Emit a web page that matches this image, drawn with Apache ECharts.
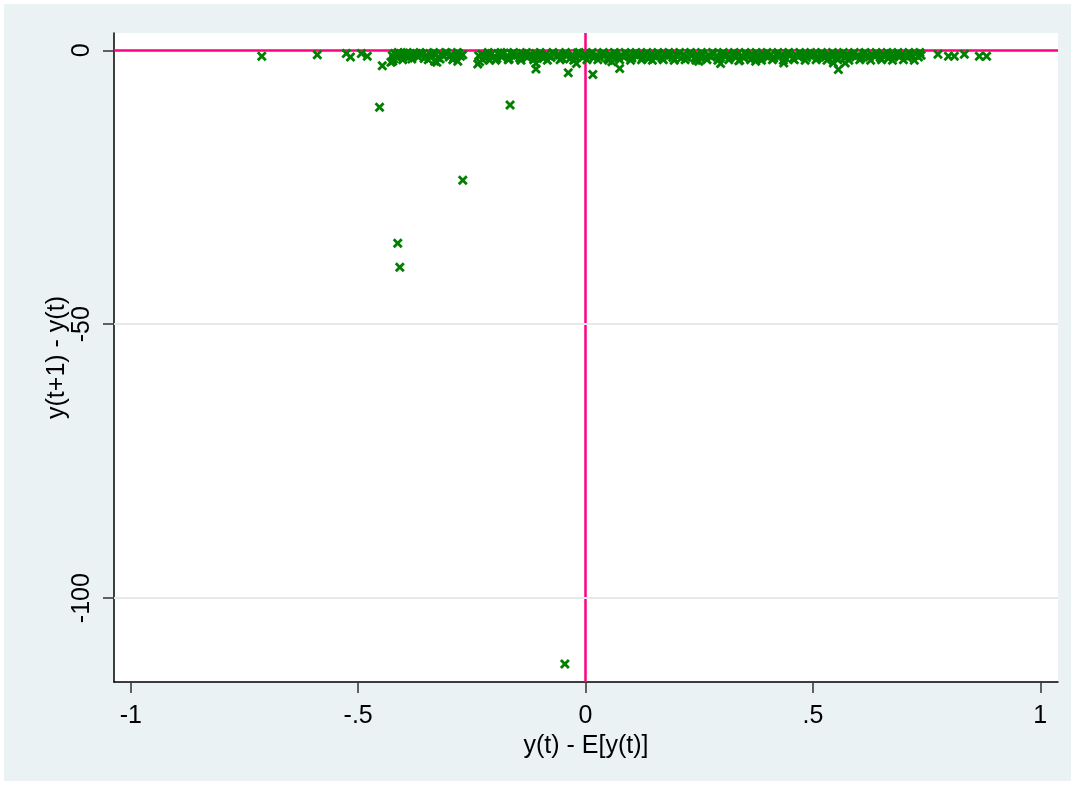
<!DOCTYPE html>
<html>
<head>
<meta charset="utf-8">
<script src="https://cdn.jsdelivr.net/npm/echarts@6/dist/echarts.min.js"></script>
<style>
html,body{margin:0;padding:0;background:#fff;}
#chart{width:1075px;height:785px;}
</style>
</head>
<body>
<div id="chart"></div>
<script>
// Tick values and labels
const xTickValues = [-1, -0.5, 0, 0.5, 1];
const xTickLabels = ["-1", "-.5", "0", ".5", "1"];
const yTickValues = [0, -50, -100];
const yTickLabels = ["0", "-50", "-100"];

// Outlying observations
const outlierPoints = [
  [-0.0455, -112.0], [-0.453, -10.4], [-0.166, -10.0], [-0.270, -23.7],
  [-0.413, -35.2], [-0.4085, -39.6]
];

// Sparse points near zero (left and right tails, drops below band)
const sparsePoints = [
  [-0.712, -1.1], [-0.590, -0.8], [-0.526, -0.6], [-0.517, -1.2], [-0.493, -0.6],
  [-0.480, -1.1], [-0.447, -2.8], [-0.428, -2.2], [-0.424, -2.0], [-0.327, -2.2],
  [-0.332, -2.0], [-0.281, -2.0], [-0.237, -2.5], [-0.233, -2.1], [-0.109, -3.4],
  [-0.109, -2.4], [-0.038, -4.1], [-0.020, -2.4], [0.016, -4.4], [0.075, -3.3],
  [0.058, -2.1], [0.249, -2.0], [0.297, -2.4], [0.337, -1.9], [0.374, -2.0],
  [0.436, -2.3], [0.556, -3.5], [0.545, -2.3], [0.571, -2.3], [0.775, -0.7],
  [0.798, -1.1], [0.811, -1.1], [0.833, -0.7], [0.866, -1.1], [0.882, -1.1]
];

// Dense band of observations just below zero
const bandPoints = [
  [-0.425,-1.0],[-0.42,-0.6],[-0.415,-1.3],[-0.41,-0.8],[-0.405,-1.1],[-0.40,-0.5],
  [-0.395,-0.9],[-0.39,-1.4],[-0.385,-0.7],[-0.38,-1.0],[-0.372,-0.6],[-0.368,-1.2],
  [-0.36,-0.8],[-0.355,-1.5],[-0.35,-0.9],[-0.343,-0.6],[-0.338,-1.1],[-0.33,-0.8],
  [-0.325,-1.3],[-0.318,-0.7],[-0.312,-1.0],[-0.305,-0.5],[-0.30,-1.2],[-0.295,-0.8],
  [-0.29,-1.4],[-0.284,-0.9],[-0.279,-0.6],[-0.275,-1.1],[-0.27,-0.8],
  [-0.235,-1.0],[-0.228,-0.7],[-0.222,-1.3],[-0.217,-0.9],[-0.211,-1.8],[-0.206,-0.6],
  [-0.2,-1.1],[-0.195,-1.5],[-0.19,-0.8],[-0.184,-1.2],[-0.179,-0.5],[-0.173,-1.0],
  [-0.168,-1.6],[-0.162,-0.7],[-0.156,-1.1],[-0.15,-0.9],[-0.145,-1.4],[-0.139,-0.6],
  [-0.133,-1.0],[-0.128,-1.3],[-0.122,-0.8],[-0.116,-1.1],[-0.11,-0.6],[-0.104,-1.2],
  [-0.099,-0.9],[-0.093,-1.5],[-0.087,-0.7],[-0.081,-1.0],[-0.076,-1.3],[-0.07,-0.6],
  [-0.064,-1.1],[-0.058,-0.9],[-0.052,-1.4],[-0.047,-0.7],[-0.041,-1.0],[-0.035,-1.6],
  [-0.029,-0.8],[-0.024,-1.2],[-0.018,-0.5],[-0.012,-1.0],[-0.006,-1.3],[0.0,-0.8],
  [0.006,-1.1],[0.012,-0.6],[0.018,-1.4],[0.024,-0.9],[0.03,-1.2],[0.036,-0.7],
  [0.042,-1.0],[0.048,-1.5],[0.054,-0.8],[0.06,-1.1],[0.066,-0.6],[0.072,-1.3],
  [0.078,-0.9],[0.084,-1.2],[0.09,-0.7],[0.096,-1.0],[0.102,-1.4],[0.108,-0.8],
  [0.114,-1.1],[0.12,-0.6],[0.126,-1.3],[0.132,-0.9],[0.138,-1.6],[0.144,-0.7],
  [0.15,-1.0],[0.156,-1.2],[0.162,-0.8],[0.168,-1.4],[0.174,-0.6],[0.18,-1.1],
  [0.186,-0.9],[0.192,-1.3],[0.198,-0.7],[0.204,-1.0],[0.21,-1.5],[0.216,-0.8],
  [0.222,-1.2],[0.228,-0.6],[0.234,-1.0],[0.24,-1.4],[0.246,-0.8],[0.252,-1.1],
  [0.258,-0.7],[0.264,-1.3],[0.27,-0.9],[0.276,-1.2],[0.282,-0.6],[0.288,-1.0],
  [0.294,-1.5],[0.3,-0.8],[0.306,-1.1],[0.312,-0.7],[0.318,-1.3],[0.324,-0.9],
  [0.33,-1.2],[0.336,-0.6],[0.342,-1.0],[0.348,-1.4],[0.354,-0.8],[0.36,-1.1],
  [0.366,-0.7],[0.372,-1.3],[0.378,-0.9],[0.384,-1.6],[0.39,-0.6],[0.396,-1.0],
  [0.402,-1.2],[0.408,-0.8],[0.414,-1.4],[0.42,-0.7],[0.426,-1.1],[0.432,-0.9],
  [0.438,-1.3],[0.444,-0.6],[0.45,-1.0],[0.456,-1.5],[0.462,-0.8],[0.468,-1.2],
  [0.474,-0.7],[0.48,-1.0],[0.486,-1.3],[0.492,-0.9],[0.498,-1.1],[0.504,-0.6],
  [0.51,-1.4],[0.516,-0.8],[0.522,-1.0],[0.528,-1.2],[0.534,-0.7],[0.54,-1.1],
  [0.546,-0.9],[0.552,-1.5],[0.558,-0.6],[0.564,-1.0],[0.57,-1.3],[0.576,-0.8],
  [0.582,-1.1],[0.588,-0.7],[0.594,-1.2],[0.6,-0.9],[0.606,-1.4],[0.612,-0.6],
  [0.618,-1.0],[0.624,-1.2],[0.63,-0.8],[0.636,-1.1],[0.642,-0.7],[0.648,-1.3],
  [0.654,-0.9],[0.66,-1.0],[0.666,-1.5],[0.672,-0.6],[0.678,-1.1],[0.684,-0.8],
  [0.69,-1.2],[0.696,-0.7],[0.702,-1.0],[0.708,-1.3],[0.714,-0.8],[0.72,-1.1],
  [0.726,-0.6],[0.732,-1.2],[0.738,-0.9]
];

// Second layer of the dense band (extra overlapping observations)
const bandPoints2 = [
  [-0.422,-1.6],[-0.412,-0.4],[-0.402,-1.7],[-0.392,-0.4],[-0.382,-1.6],[-0.364,-0.4],
  [-0.346,-1.7],[-0.334,-0.4],[-0.32,-1.6],[-0.308,-0.4],[-0.292,-1.7],[-0.282,-0.4],
  [-0.226,-1.7],[-0.214,-0.4],[-0.198,-1.8],[-0.186,-0.4],[-0.17,-1.7],[-0.158,-0.4],
  [-0.142,-1.8],[-0.13,-0.4],[-0.114,-1.7],[-0.1,-0.4],[-0.084,-1.8],[-0.072,-0.4],
  [-0.056,-1.7],[-0.044,-0.4],[-0.026,-1.8],[-0.014,-0.4],[0.003,-1.7],[0.015,-0.4],
  [0.027,-1.7],[0.039,-0.4],[0.051,-1.8],[0.063,-0.4],[0.075,-1.7],[0.087,-0.4],
  [0.099,-1.8],[0.111,-0.4],[0.123,-1.7],[0.135,-0.4],[0.147,-1.8],[0.159,-0.4],
  [0.171,-1.7],[0.183,-0.4],[0.195,-1.8],[0.207,-0.4],[0.219,-1.7],[0.231,-0.4],
  [0.243,-1.8],[0.255,-0.4],[0.267,-1.7],[0.279,-0.4],[0.291,-1.8],[0.303,-0.4],
  [0.315,-1.7],[0.327,-0.4],[0.339,-1.8],[0.351,-0.4],[0.363,-1.7],[0.375,-0.4],
  [0.387,-1.8],[0.399,-0.4],[0.411,-1.7],[0.423,-0.4],[0.435,-1.8],[0.447,-0.4],
  [0.459,-1.7],[0.471,-0.4],[0.483,-1.8],[0.495,-0.4],[0.507,-1.7],[0.519,-0.4],
  [0.531,-1.8],[0.543,-0.4],[0.555,-1.7],[0.567,-0.4],[0.579,-1.8],[0.591,-0.4],
  [0.603,-1.7],[0.615,-0.4],[0.627,-1.8],[0.639,-0.4],[0.651,-1.7],[0.663,-0.4],
  [0.675,-1.8],[0.687,-0.4],[0.699,-1.7],[0.711,-0.4],[0.723,-1.8],[0.735,-0.4]
];

const xTitle = "y(t) - E[y(t)]";
const yTitle = "y(t+1) - y(t)";

const allPoints = bandPoints.concat(bandPoints2, sparsePoints, outlierPoints);

const FONT = "'Liberation Sans', Arial, sans-serif";
const xMarker = 'path://M0,2 L2,0 L5,3 L8,0 L10,2 L7,5 L10,8 L8,10 L5,7 L2,10 L0,8 L3,5 Z';

const chart = echarts.init(document.getElementById('chart'), null, {renderer: 'canvas'});

chart.setOption({
  backgroundColor: '#ffffff',
  animation: false,
  graphic: [{
    type: 'rect', silent: true, z: -100,
    shape: {x: 4, y: 4, width: 1067, height: 777},
    style: {fill: '#eaf2f3'}
  }],
  grid: {
    left: 114, right: 17, top: 33, bottom: 103,
    show: true, backgroundColor: '#ffffff', borderWidth: 0
  },
  xAxis: {
    type: 'value', min: -1.037, max: 1.039,
    axisLine: {show: true, onZero: false, lineStyle: {color: '#000', width: 1.5}},
    axisTick: {show: true, length: 11, customValues: xTickValues, lineStyle: {color: '#333', width: 1.5}},
    axisLabel: {
      show: true, customValues: xTickValues, margin: 22,
      fontSize: 25, color: '#000', fontFamily: FONT,
      formatter: function (v) { const i = xTickValues.indexOf(v); return i >= 0 ? xTickLabels[i] : ''; }
    },
    splitLine: {show: false},
    name: xTitle, nameLocation: 'middle', nameGap: 50,
    nameTextStyle: {fontSize: 25, color: '#000', fontFamily: FONT}
  },
  yAxis: {
    type: 'value', min: -115.3, max: 3.16,
    axisLine: {show: true, onZero: false, lineStyle: {color: '#000', width: 1.5}},
    axisTick: {show: true, length: 11, customValues: yTickValues, lineStyle: {color: '#333', width: 1.5}},
    axisLabel: {
      show: true, customValues: yTickValues, margin: 19, rotate: 90,
      fontSize: 25, color: '#000', fontFamily: FONT,
      formatter: function (v) { const i = yTickValues.indexOf(v); return i >= 0 ? yTickLabels[i] : ''; }
    },
    splitLine: {show: false},
    name: yTitle, nameLocation: 'middle', nameGap: 57, nameRotate: 90,
    nameMoveOverlap: false,
    nameTextStyle: {fontSize: 25, color: '#000', fontFamily: FONT, verticalAlign: 'middle'}
  },
  series: [
    {
      type: 'scatter', name: 'grid', data: [], silent: true, z: 1,
      markLine: {
        silent: true, symbol: ['none', 'none'], label: {show: false},
        lineStyle: {color: '#e6e9e9', width: 2, type: 'solid'},
        data: yTickValues.filter(v => v !== 0).map(v => ({yAxis: v}))
      }
    },
    {
      type: 'scatter', name: 'obs', data: allPoints, z: 3,
      symbol: xMarker, symbolSize: 10,
      itemStyle: {color: '#008000', opacity: 1},
      markLine: {
        silent: true, symbol: ['none', 'none'], label: {show: false}, z: 2,
        lineStyle: {color: '#ff0080', width: 2.5, type: 'solid'},
        data: [{yAxis: 0}, {xAxis: 0}]
      }
    }
  ]
});
</script>
</body>
</html>
